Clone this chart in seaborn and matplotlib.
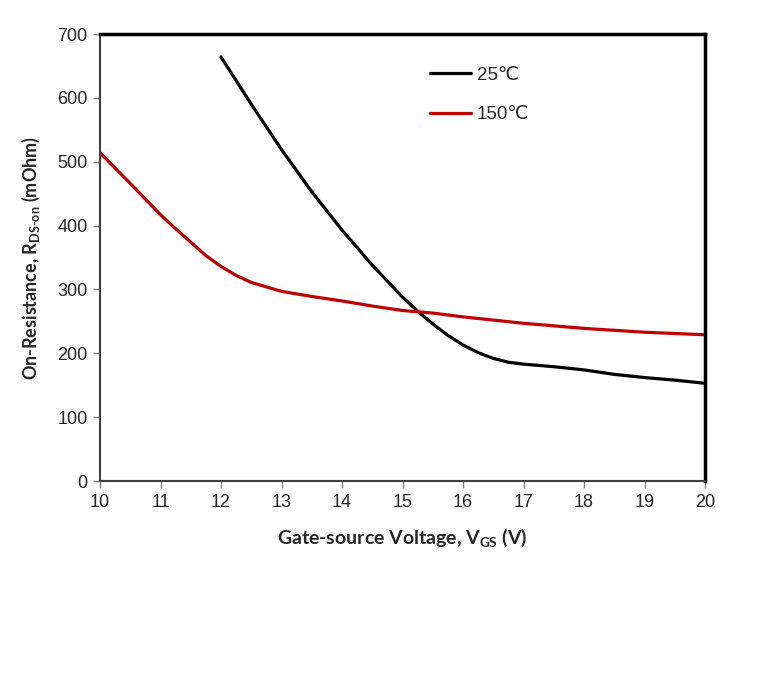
import matplotlib
matplotlib.use("Agg")
import matplotlib.pyplot as plt
import numpy as np
import pandas as pd
import seaborn as sns

# values
v_25 = [12, 12.5, 13, 13.5, 14, 14.5, 15, 15.25, 15.5, 15.75, 16, 16.25, 16.5, 16.75,
        17, 17.5, 18, 18.5, 19, 19.5, 20]
r_25 = [664, 590, 519, 453, 393, 338, 288, 266, 246, 228, 213, 201, 192, 186,
        183, 179, 174, 167, 162, 158, 153]
v_150 = [10, 10.5, 11, 11.25, 11.5, 11.75, 12, 12.25, 12.5, 13, 13.5, 14, 14.5, 15,
         15.5, 16, 16.5, 17, 17.5, 18, 18.5, 19, 19.5, 20]
r_150 = [514, 466, 417, 395, 374, 353, 336, 322, 311, 297, 289, 282, 274, 267,
         263, 257, 252, 247, 243, 239, 236, 233, 231, 229]
labels = ['25℃', '150℃']
colors = ['#000000', '#C00000']

df = pd.concat([
    pd.DataFrame({'vgs': v_25, 'rds': r_25, 'temp': labels[0]}),
    pd.DataFrame({'vgs': v_150, 'rds': r_150, 'temp': labels[1]}),
])

sns.set_style("white")
plt.rcParams['font.family'] = ['Liberation Sans', 'DejaVu Sans']
plt.rcParams['mathtext.fontset'] = 'custom'
plt.rcParams['mathtext.rm'] = 'Lato:bold'
plt.rcParams['mathtext.bf'] = 'Lato:bold'
plt.rcParams['mathtext.default'] = 'bf'

fig = plt.figure(figsize=(7.64, 6.75), dpi=100)
ax = fig.add_axes([0.1309, 0.2874, 0.7919, 0.6622])

sns.lineplot(ax=ax, data=df, x='vgs', y='rds', hue='temp', hue_order=labels,
             palette=colors, linewidth=2.3, sort=False, legend=False)
for line in ax.get_lines():
    line.set_solid_joinstyle('round')
    line.set_solid_capstyle('round')

ax.set_xlim(10, 20)
ax.set_ylim(0, 700)
ax.set_xticks(np.arange(10, 21, 1))
ax.set_yticks(np.arange(0, 701, 100))
ax.tick_params(axis='both', direction='out', length=5, width=1, color='#808080',
               labelsize=13, pad=4, bottom=True, left=True)
for lab in ax.get_xticklabels() + ax.get_yticklabels():
    lab.set_family(['Liberation Sans', 'DejaVu Sans'])

for side in ['top', 'right']:
    ax.spines[side].set_color('black')
    ax.spines[side].set_linewidth(2.5)
for side in ['left', 'bottom']:
    ax.spines[side].set_color('#404040')
    ax.spines[side].set_linewidth(1.5)

ax.set_xlabel('Gate-source Voltage, V$_{GS}$ (V)', family='Lato', weight='bold',
              fontsize=14, labelpad=12)
ax.set_ylabel('On-Resistance, R$_{DS\\text{-}on}$ (mOhm)', family='Lato', weight='bold',
              fontsize=13, labelpad=11)

handles = [plt.Line2D([], [], color=c, linewidth=2.3) for c in colors]
leg = ax.legend(handles, labels, loc='upper left', bbox_to_anchor=(0.545, 0.927),
                frameon=False, fontsize=13.5, handlelength=2.2, handletextpad=0.3,
                labelspacing=1.2, borderpad=0, borderaxespad=0)
for t in leg.get_texts():
    t.set_family(['Liberation Sans', 'DejaVu Sans'])

plt.savefig("out.png", dpi=100)
